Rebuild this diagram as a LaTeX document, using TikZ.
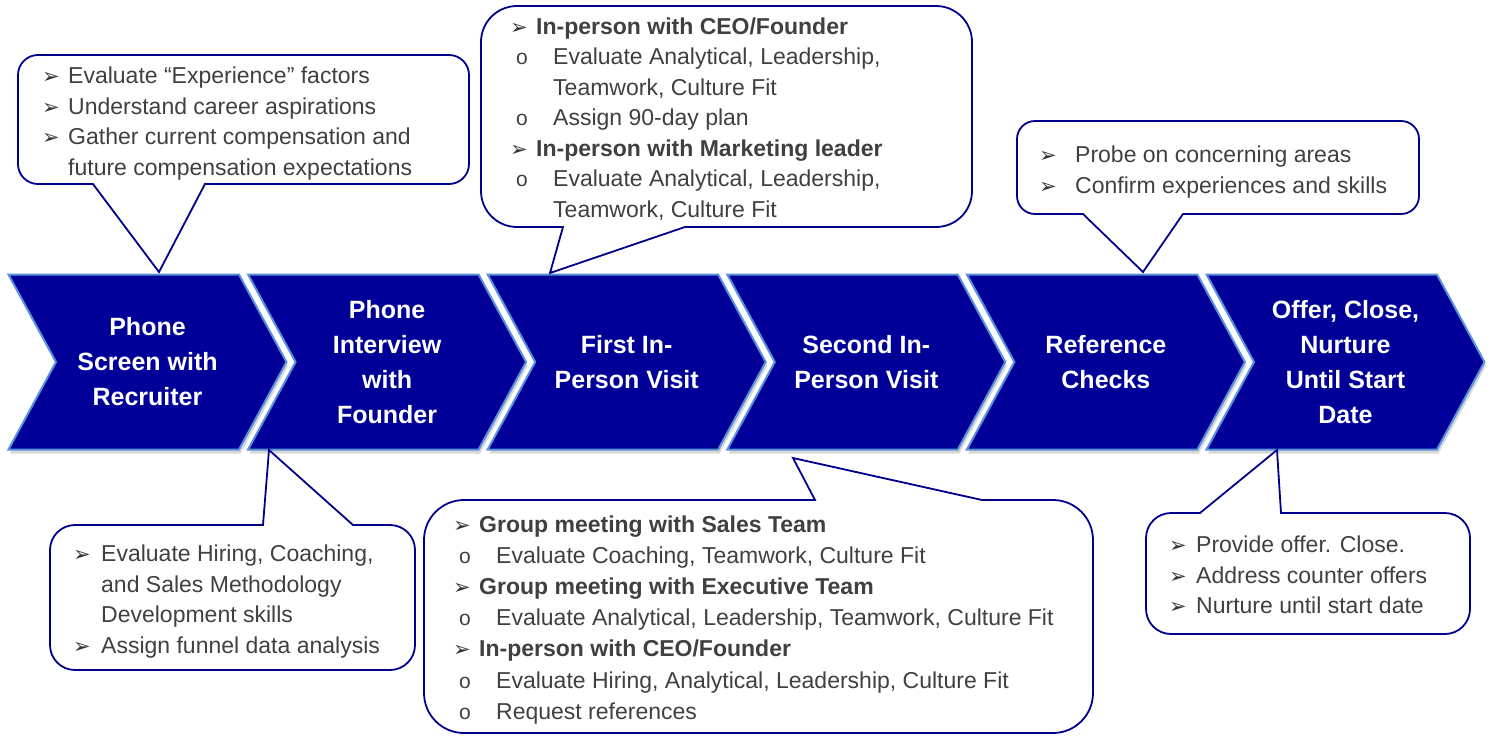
\documentclass[tikz,border=0pt]{standalone}
\usepackage{fontspec}
\setmainfont{Liberation Sans}
\newfontfamily\symfont{DejaVu Sans}
\usetikzlibrary{shapes.symbols,shadows}

\definecolor{stageblue}{RGB}{0,0,153}
\definecolor{stageedge}{RGB}{88,145,218}
\definecolor{bubbleline}{RGB}{0,0,140}
\definecolor{notegray}{RGB}{64,64,64}

% bullets of the notes
\newcommand{\bul}{{\symfont\fontsize{21}{21}\selectfont\color{black!80}➢}}
\newcommand{\mainpt}[2][22pt]{\makebox[#1][l]{\bul}#2}
\newcommand{\headpt}[1]{\makebox[26pt][l]{\bul}\textbf{#1}}
\newcommand{\subpt}[1]{\hspace*{6pt}\makebox[37pt][l]{\fontsize{21}{21}\selectfont o}#1}

\begin{document}
\begin{tikzpicture}[x=1pt,y=-1pt,
    stage/.style={signal,signal to=east,signal from=west,signal pointer angle=123,
        minimum width=278pt,minimum height=175pt,inner sep=0pt,
        fill=stageblue,draw=stageedge,line width=2pt,
        drop shadow={shadow xshift=1.5pt,shadow yshift=-4pt,opacity=0.3,fill=gray},
        text=white,align=center,font=\bfseries\fontsize{25}{35}\selectfont},
    bubble/.style={draw=bubbleline,line width=1.8pt,fill=white},
    notes/.style={anchor=north west,inner sep=0pt,align=left,text=notegray,
        font=\fontsize{23}{30.5}\selectfont}]

        \useasboundingbox[fill=white] (0,0) rectangle (1492,742);

        % the six stages
        \foreach \i/\stagetext in {
            1/{Phone\\Screen with\\Recruiter},
            2/{Phone\\Interview\\with\\Founder},
            3/{First In-\\Person Visit},
            4/{Second In-\\Person Visit},
            5/{Reference\\Checks},
            6/{Offer, Close,\\Nurture\\Until Start\\Date}}
                \node[stage] (s\i) at ({147.5+239.6*(\i-1)},362) {\stagetext};

        % callouts above the stages
        \draw[bubble] (205,184) [rounded corners=20pt] -- (469,184) -- (469,55) -- (18,55)
            -- (18,184) [sharp corners] -- (93,184) -- (159,272) -- cycle;
        \draw[bubble] (685,227) [rounded corners=36pt] -- (972,227) -- (972,6) -- (481,6)
            -- (481,227) [sharp corners] -- (563,227) -- (550,273) -- cycle;
        \draw[bubble] (1183,214) [rounded corners=18pt] -- (1419,214) -- (1419,121) -- (1017,121)
            -- (1017,214) [sharp corners] -- (1083,214) -- (1143,272) -- cycle;

        % callouts below the stages
        \draw[bubble] (263,525) [rounded corners=25pt] -- (50,525) -- (50,670) -- (415,670)
            -- (415,525) [sharp corners] -- (353,525) -- (269,450) -- cycle;
        \draw[bubble] (815,500) [rounded corners=40pt] -- (424,500) -- (424,733) -- (1093,733)
            -- (1093,500) [sharp corners] -- (982,500) -- (793,458) -- cycle;
        \draw[bubble] (1200,513) [rounded corners=25pt] -- (1146,513) -- (1146,634) -- (1470,634)
            -- (1470,513) [sharp corners] -- (1281,513) -- (1277,450) -- cycle;

        % texts of the callouts
        \node[notes] (n1) at (42,62) {\strut\mainpt[26pt]{Evaluate “Experience” factors}\\
            \mainpt[26pt]{Understand career aspirations}\\
            \mainpt[26pt]{Gather current compensation and}\\
            \hspace*{26pt}future compensation expectations};
        \node[notes] (n2) at (510,12.5) {\strut\headpt{In-person with CEO/Founder}\\
            \subpt{Evaluate Analytical, Leadership,}\\
            \hspace*{43pt}Teamwork, Culture Fit\\
            \subpt{Assign 90-day plan}\\
            \headpt{In-person with Marketing leader}\\
            \subpt{Evaluate Analytical, Leadership,}\\
            \hspace*{43pt}Teamwork, Culture Fit};
        \node[notes] (n3) at (1039,141) {\strut\mainpt[36pt]{Probe on concerning areas}\\
            \mainpt[36pt]{Confirm experiences and skills}};
        \node[notes] (n4) at (73,540) {\strut\mainpt[28pt]{Evaluate Hiring, Coaching,}\\
            \hspace*{28pt}and Sales Methodology\\
            \hspace*{28pt}Development skills\\
            \mainpt[28pt]{Assign funnel data analysis}};
        \node[notes,font=\fontsize{23}{31.2}\selectfont] (n5) at (453,510)
            {\strut\headpt{Group meeting with Sales Team}\\
            \subpt{Evaluate Coaching, Teamwork, Culture Fit}\\
            \headpt{Group meeting with Executive Team}\\
            \subpt{Evaluate Analytical, Leadership, Teamwork, Culture Fit}\\
            \headpt{In-person with CEO/Founder}\\
            \subpt{Evaluate Hiring, Analytical, Leadership, Culture Fit}\\
            \subpt{Request references}};
        \node[notes] (n6) at (1169,531) {\strut\mainpt[27pt]{Provide offer. Close.}\\
            \mainpt[27pt]{Address counter offers}\\
            \mainpt[27pt]{Nurture until start date}};
\end{tikzpicture}
\end{document}
